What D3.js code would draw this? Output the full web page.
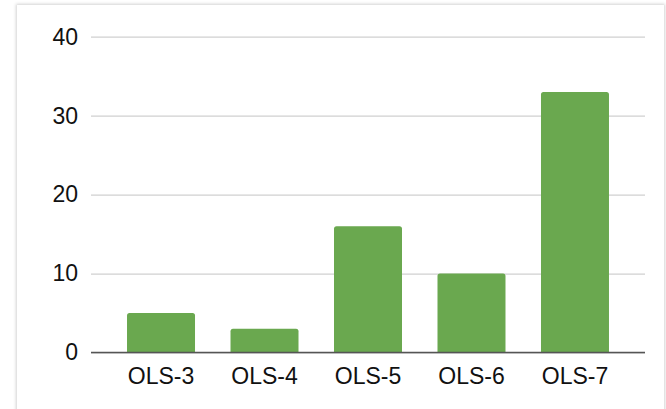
<!DOCTYPE html>
<html>
<head>
<meta charset="utf-8">
<script src="https://cdn.jsdelivr.net/npm/d3@7"></script>
<style>
  html, body { margin: 0; padding: 0; background: #ffffff; overflow: hidden; }
  #card {
    position: absolute; left: 17px; top: 5px; width: 647px; height: 420px;
    background: #fff; box-shadow: 0 0 3px 1px rgba(0,0,0,0.18);
  }
  svg { position: absolute; left: 0; top: 0; }
</style>
</head>
<body>
<div id="card"></div>
<svg id="chart" width="666" height="409"></svg>
<script>
const categories = ["OLS-3", "OLS-4", "OLS-5", "OLS-6", "OLS-7"];
const values = [5, 3, 16, 10, 33];
const yTicks = [0, 10, 20, 30, 40];

(function () {
const svg = d3.select("#chart");
const mLeft = 91, mRight = 645, mTop = 36.7, mBottom = 352.5;

const x = d3.scaleBand().domain(categories).range([mLeft, mRight])
  .paddingInner(0.343).paddingOuter(0.348);
const y = d3.scaleLinear().domain([0, 40]).range([mBottom, mTop]);

const font = "'Liberation Sans', Arial, sans-serif";

// gridlines + y labels
const yAxis = d3.axisLeft(y).tickValues(yTicks).tickSize(-(mRight - mLeft)).tickPadding(13).tickFormat(d3.format("d"));
const gy = svg.append("g").attr("transform", `translate(${mLeft},0)`).call(yAxis);
gy.select(".domain").remove();
gy.selectAll(".tick line").attr("stroke", "#d0d0d0").attr("stroke-width", 1.3);
gy.selectAll(".tick text").attr("font-family", font).attr("font-size", 23).attr("fill", "#111");

// bars with rounded top corners
const r = 2.5;
function barPath(x0, w, yTop, yBase) {
  return `M${x0},${yBase} L${x0},${yTop + r} Q${x0},${yTop} ${x0 + r},${yTop} L${x0 + w - r},${yTop} Q${x0 + w},${yTop} ${x0 + w},${yTop + r} L${x0 + w},${yBase} Z`;
}
svg.append("g").selectAll("path").data(categories).join("path")
  .attr("d", (d, i) => barPath(x(d), x.bandwidth(), y(values[i]), y(0)))
  .attr("fill", "#6aa84f");

// x axis baseline + labels
const xAxis = d3.axisBottom(x).tickSize(0).tickPadding(15);
const gx = svg.append("g").attr("transform", `translate(0,${y(0)})`).call(xAxis);
gx.select(".domain").attr("d", `M${mLeft},0H${mRight}`).attr("stroke", "#555").attr("stroke-width", 1.4);
gx.selectAll(".tick text").attr("font-family", font).attr("font-size", 23).attr("fill", "#111");
})();
</script>
</body>
</html>
